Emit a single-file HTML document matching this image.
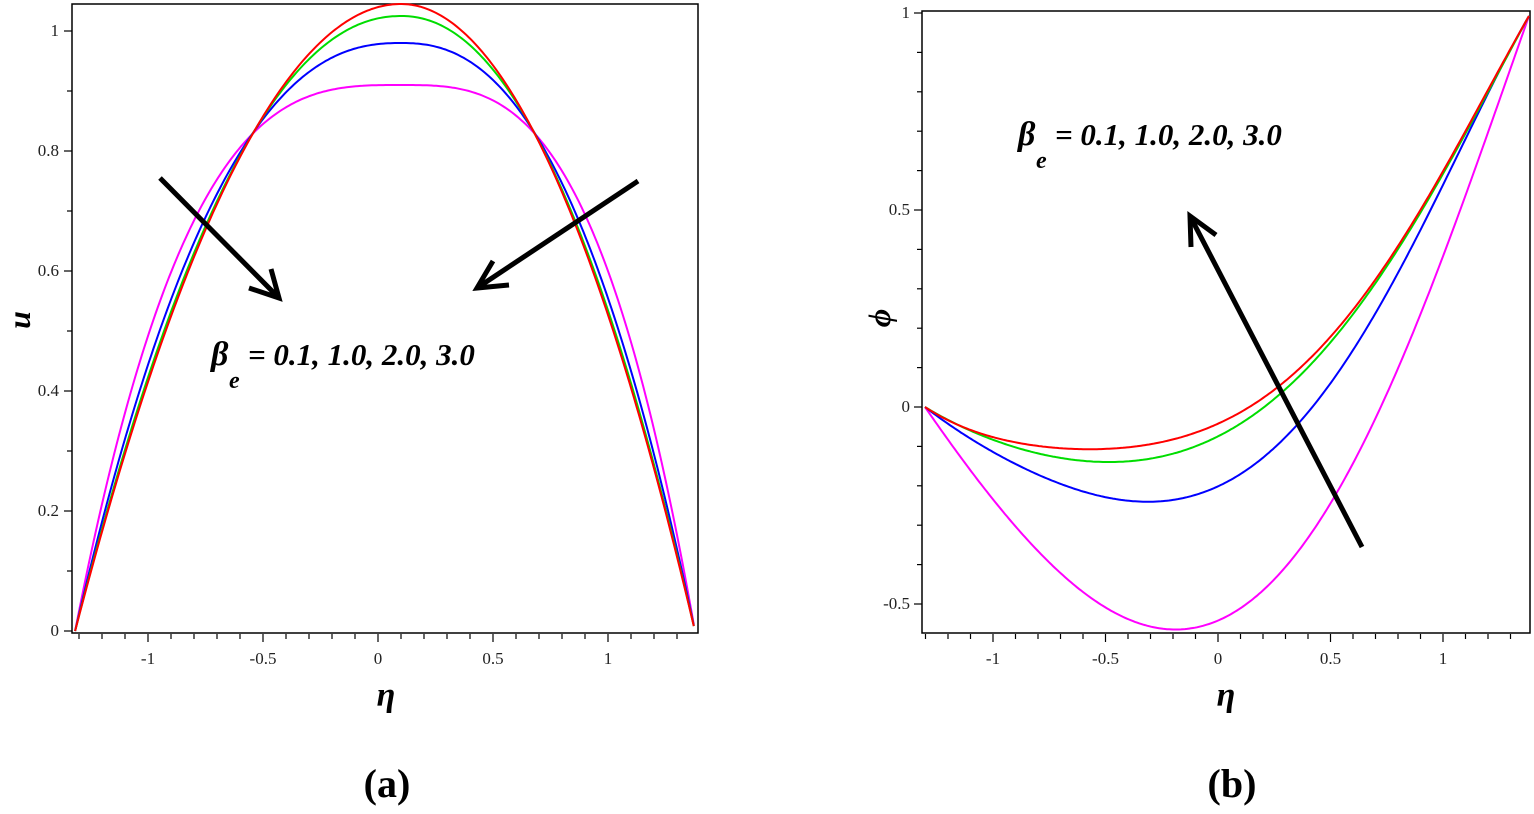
<!DOCTYPE html>
<html><head><meta charset="utf-8"><style>
body{margin:0;background:#fff;width:1534px;height:809px;overflow:hidden}
svg text{font-family:"Liberation Serif",serif}
</style></head><body>
<svg id="s" width="1534" height="809" xmlns="http://www.w3.org/2000/svg">
<rect x="0" y="0" width="1534" height="809" fill="#fff"/>
<rect x="72" y="4" width="626" height="629" fill="none" stroke="#000" stroke-width="1.5"/>
<rect x="922" y="11" width="608" height="622" fill="none" stroke="#000" stroke-width="1.5"/>
<g id="ticks" stroke="#000" stroke-width="1.2"></g>
<g id="labels" font-size="17" fill="#222"></g>
<g id="curves" fill="none" stroke-width="2"></g>
<g stroke="#000" stroke-width="5" fill="none" stroke-linecap="butt">
<line x1="160" y1="178" x2="279" y2="298"/>
<polyline points="249,288 279,298 271,269"/>
<line x1="638" y1="181" x2="477" y2="288"/>
<polyline points="493,261 477,288 509,285"/>
<line x1="1362" y1="547" x2="1190" y2="216"/>
<polyline points="1191,247 1190,216 1216,235"/>
</g>
<text x="211" y="365" font-size="34" font-weight="bold" font-style="italic">β</text>
<text x="229" y="388" font-size="24" font-weight="bold" font-style="italic">e</text>
<text x="248" y="365" font-size="31" font-weight="bold" font-style="italic">= 0.1, 1.0, 2.0, 3.0</text>
<text x="1018" y="145" font-size="34" font-weight="bold" font-style="italic">β</text>
<text x="1036" y="168" font-size="24" font-weight="bold" font-style="italic">e</text>
<text x="1055" y="145" font-size="31" font-weight="bold" font-style="italic">= 0.1, 1.0, 2.0, 3.0</text>
<text x="386" y="706" font-size="34" font-weight="bold" font-style="italic" text-anchor="middle">η</text>
<text x="1226" y="706" font-size="34" font-weight="bold" font-style="italic" text-anchor="middle">η</text>
<text transform="translate(30,320) rotate(-90)" font-size="32" font-weight="bold" font-style="italic" text-anchor="middle">u</text>
<text transform="translate(890,318) rotate(-90)" font-size="32" font-weight="bold" font-style="italic" text-anchor="middle">ϕ</text>
<text x="387" y="797" font-size="40" font-weight="bold" text-anchor="middle">(a)</text>
<text x="1232" y="797" font-size="40" font-weight="bold" text-anchor="middle">(b)</text>
</svg>
<script>
var NS="http://www.w3.org/2000/svg";
function el(p,t,a,txt){var e=document.createElementNS(NS,t);for(var k in a)e.setAttribute(k,a[k]);if(txt!=null)e.textContent=txt;document.getElementById(p).appendChild(e);}
var i,v;
for(i=-13;i<=13;i++){v=i/10;var px=378+230*v;if(px<73||px>697)continue;el("ticks","line",{x1:px,y1:634,x2:px,y2:(i%5==0?642:639)});}
for(i=0;i<=10;i++){var py=631-60*i;el("ticks","line",{x1:(i%2==0?64:67),y1:py,x2:72,y2:py});}
[-1,-0.5,0,0.5,1].forEach(function(t){el("labels","text",{x:378+230*t,y:664,"text-anchor":"middle"},String(t));});
[0,0.2,0.4,0.6,0.8,1].forEach(function(t){el("labels","text",{x:59,y:631-600*t+5,"text-anchor":"end"},String(t));});
for(i=-13;i<=13;i++){v=i/10;var px=1218+225*v;if(px<923||px>1529)continue;el("ticks","line",{x1:px,y1:634,x2:px,y2:(i%5==0?642:639)});}
for(i=-5;i<=10;i++){var py=407-39.4*i;if(py>632)continue;el("ticks","line",{x1:(i%5==0?914:917),y1:py,x2:922,y2:py});}
[-1,-0.5,0,0.5,1].forEach(function(t){el("labels","text",{x:1218+225*t,y:664,"text-anchor":"middle"},String(t));});
[-0.5,0,0.5,1].forEach(function(t){el("labels","text",{x:910,y:407-394*t+5,"text-anchor":"end"},String(t));});
var L=[["#ff00ff",0.91,3.07],["#0000ff",0.98,2.38],["#00dd00",1.025,2.1],["#ff0000",1.045,2.0]];
L.forEach(function(c){var pts=[];for(var x=-1.317;x<=1.3781;x+=0.01){var t=x<0.1?(0.1-x)/1.417:(x-0.1)/1.278;t=Math.min(1,Math.abs(t));var u=c[1]*(1-Math.pow(t,c[2]));pts.push((378+230*x).toFixed(1)+","+(631-600*u).toFixed(1));}
el("curves","polyline",{points:pts.join(" "),stroke:c[0]});});
var R=[["#ff00ff","925,407 982,482 1022,535 1071,584 1116,614 1169,631 1218,618 1267,580 1308,543 1349,473 1378,416 1414,327 1451,233 1492,122 1529,16"],
["#0000ff","925,407 982,441 1043,478 1112,503 1153,503 1227,478 1267,449 1308,412 1349,359 1390,294 1431,212 1471,118 1529,16"],
["#00dd00","925,407 982,433 1043,455 1104,464 1145,461 1206,441 1267,400 1308,367 1349,322 1390,265 1431,196 1471,118 1529,16"],
["#ff0000","925,407 982,429 1071,452 1116,452 1178,437 1247,402 1308,359 1349,318 1390,265 1431,192 1471,114 1529,16"]];
function solve(A,b){var n=b.length;for(var c=0;c<n;c++){var m=c;for(var r=c+1;r<n;r++)if(Math.abs(A[r][c])>Math.abs(A[m][c]))m=r;var t=A[c];A[c]=A[m];A[m]=t;t=b[c];b[c]=b[m];b[m]=t;
for(var r=c+1;r<n;r++){var f=A[r][c]/A[c][c];for(var k=c;k<n;k++)A[r][k]-=f*A[c][k];b[r]-=f*b[c];}}
var x=new Array(n);for(var r=n-1;r>=0;r--){var s=b[r];for(var k=r+1;k<n;k++)s-=A[r][k]*x[k];x[r]=s/A[r][r];}return x;}
R.forEach(function(c){var p=c[1].split(" ").map(function(q){return q.split(",").map(Number);});
var deg=5,n=deg+1,A=[],b=[];for(var r=0;r<n;r++){A.push(new Array(n).fill(0));b.push(0);}
p.forEach(function(q,idx){var s=(q[0]-1227)/302;var w=(idx==0||idx==p.length-1)?50:1;for(var r=0;r<n;r++){for(var k=0;k<n;k++)A[r][k]+=w*Math.pow(s,r+k);b[r]+=w*q[1]*Math.pow(s,r);}});
var co=solve(A,b);var pts=[];for(var X=925;X<=1529;X+=2){var s=(X-1227)/302,y=0;for(var k=0;k<n;k++)y+=co[k]*Math.pow(s,k);pts.push(X+","+y.toFixed(1));}
el("curves","polyline",{points:pts.join(" "),stroke:c[0]});});
</script>
</body></html>
